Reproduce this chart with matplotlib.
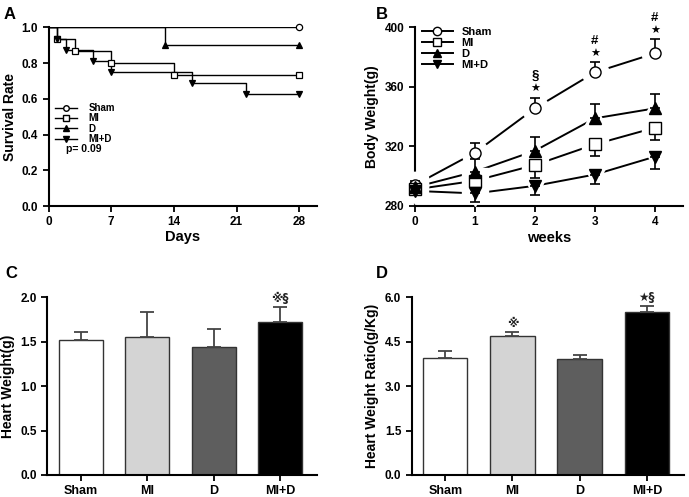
import matplotlib
matplotlib.use("Agg")
from matplotlib import pyplot as plt
from matplotlib.lines import Line2D

plt.rcParams['font.family'] = ['Liberation Sans', 'DejaVu Sans']
plt.rcParams['font.weight'] = 'bold'
plt.rcParams['axes.labelweight'] = 'bold'
plt.rcParams['axes.linewidth'] = 1.5

# ---- A: survival (Kaplan-Meier steps) ----
groups = ["Sham", "MI", "D", "MI+D"]
surv_days = {
    "Sham": [0, 28],
    "MI": [0, 1, 3, 7, 14, 28],
    "D": [0, 13, 28],
    "MI+D": [0, 1, 2, 5, 7, 16, 22, 28],
}
surv_rate = {
    "Sham": [1.0, 1.0],
    "MI": [1.0, 0.933, 0.867, 0.8, 0.733, 0.733],
    "D": [1.0, 0.9, 0.9],
    "MI+D": [1.0, 0.9375, 0.875, 0.8125, 0.75, 0.6875, 0.625, 0.625],
}
p_text = "p= 0.09"

# ---- B: body weight over weeks ----
weeks = [0, 1, 2, 3, 4]
bw_mean = {
    "Sham": [294, 315.7, 345.5, 369.7, 382.5],
    "MI": [291, 296.8, 307.4, 321.3, 332.5],
    "D": [292.5, 302.9, 317, 338.8, 345.5],
    "MI+D": [290, 288.3, 293.4, 301, 313],
}
bw_err = {
    "Sham": [2.5, 6.3, 7.2, 6.7, 9.4],
    "MI": [2.5, 5.6, 8.6, 7.9, 8.5],
    "D": [2.5, 8.5, 9, 9.4, 9.4],
    "MI+D": [2.5, 6.1, 6.2, 6.2, 8.3],
}
err_up = {"Sham": True, "MI": False, "D": True, "MI+D": False}
bw_marks = {2: ["\u2605", "\u00a7"], 3: ["\u2605", "#"], 4: ["\u2605", "#"]}

# ---- C / D: bars ----
bar_labels = ["Sham", "MI", "D", "MI+D"]
heart_w = [1.52, 1.55, 1.445, 1.725]
heart_w_err = [0.087, 0.29, 0.20, 0.17]
heart_w_marks = ["", "", "", "\u203b\u00a7"]
ratio = [3.96, 4.69, 3.90, 5.52]
ratio_err = [0.23, 0.15, 0.16, 0.19]
ratio_marks = ["", "\u203b", "", "\u2605\u00a7"]

markers = {"Sham": "o", "MI": "s", "D": "^", "MI+D": "v"}
faces = {"Sham": "white", "MI": "white", "D": "black", "MI+D": "black"}
bar_colors = ["white", "#d4d4d4", "#5e5e5e", "black"]

fig = plt.figure(figsize=(6.89, 4.97), dpi=100)
axA = fig.add_axes([0.0704, 0.5855, 0.390, 0.3595])
axB = fig.add_axes([0.6023, 0.586, 0.389, 0.359])
axC = fig.add_axes([0.0687, 0.0443, 0.391, 0.3575])
axD = fig.add_axes([0.5975, 0.0443, 0.395, 0.3575])

for ax in (axA, axB, axC, axD):
    ax.spines['top'].set_visible(False)
    ax.spines['right'].set_visible(False)
    ax.tick_params(direction='out', length=4, width=1.3, labelsize=8.5)

# A
for g in groups:
    t, s = surv_days[g], surv_rate[g]
    axA.step(t, s, where='post', color='black', lw=1.0, zorder=2)
    axA.plot(t[1:], s[1:], ls='none', marker=markers[g], ms=4.5,
             mfc=faces[g], mec='black', mew=0.9, clip_on=False, zorder=3)
axA.set_xlim(0, 30)
axA.set_ylim(0, 1.0)
axA.set_xticks([0, 7, 14, 21, 28])
axA.set_yticks([0, 0.2, 0.4, 0.6, 0.8, 1.0])
axA.set_yticklabels(["%.1f" % v for v in axA.get_yticks()])
axA.set_xlabel("Days", fontsize=10.5, labelpad=1)
axA.set_ylabel("Survival Rate", fontsize=10, labelpad=3)
handlesA = [Line2D([], [], color='black', lw=1, marker=markers[g], ms=4,
                   mfc=faces[g], mec='black') for g in groups]
axA.legend(handlesA, groups, loc='upper left', bbox_to_anchor=(0.0, 0.615),
           frameon=False, fontsize=7, handlelength=2.2, labelspacing=0.05,
           handletextpad=1.2, borderaxespad=0.3)
axA.text(0.065, 0.32, p_text, transform=axA.transAxes, fontsize=7.5,
         va='center')

# B
for g in groups:
    m, e = bw_mean[g], bw_err[g]
    zeros = [0] * len(e)
    yerr = [zeros, e] if err_up[g] else [e, zeros]
    axB.plot(weeks, m, color='black', lw=1.4, zorder=2, clip_on=False)
    axB.plot(weeks, m, ls='none', marker=markers[g], ms=19, mfc='white',
             mec='white', zorder=3, clip_on=False)
    axB.errorbar(weeks, m, yerr=yerr, fmt='none', ecolor='black',
                 elinewidth=1.2, capsize=3.5, capthick=1.2, zorder=4,
                 clip_on=False)
    axB.plot(weeks, m, ls='none', marker=markers[g], ms=8, mfc=faces[g],
             mec='black', mew=1.0, zorder=5, clip_on=False)
for w, labs in bw_marks.items():
    top = bw_mean["Sham"][w] + bw_err["Sham"][w]
    axB.text(w, top + 2.5, labs[0], ha='center', va='bottom', fontsize=8,
             family=['DejaVu Sans'])
    axB.text(w, top + 10.5, labs[1], ha='center', va='bottom', fontsize=9.5)
axB.set_xlim(0, 4.47)
axB.set_ylim(280, 400)
axB.set_xticks(weeks)
axB.set_yticks([280, 320, 360, 400])
axB.set_xlabel("weeks", fontsize=10.5, labelpad=2)
axB.set_ylabel("Body Weight(g)", fontsize=10, labelpad=4)
handlesB = [Line2D([], [], color='black', lw=1.4, marker=markers[g], ms=6,
                   mfc=faces[g], mec='black') for g in groups]
axB.legend(handlesB, groups, loc='upper left', bbox_to_anchor=(0.0, 1.04),
           frameon=False, fontsize=8, handlelength=2.8, labelspacing=0.1,
           handletextpad=0.8, borderaxespad=0.2)

# C and D
def bar_panel(ax, vals, errs, marks, ylim, ticks, fmt, ylabel, pad):
    xs = list(range(len(vals)))
    ax.bar(xs, vals, width=0.66, color=bar_colors, edgecolor='#333333',
           linewidth=1.0, zorder=2)
    ax.errorbar(xs, vals, yerr=[[0] * len(errs), errs], fmt='none',
                ecolor='#444444', elinewidth=1.3, capsize=5, capthick=1.3,
                zorder=3)
    for x, v, e, mk in zip(xs, vals, errs, marks):
        if mk:
            ax.text(x, v + e + pad, mk, ha='center', va='bottom', fontsize=8.5,
                    family=['DejaVu Sans'], color='#222222')
    ax.set_xlim(-0.5, 3.55)
    ax.set_ylim(*ylim)
    ax.set_xticks(xs)
    ax.set_xticklabels(bar_labels, fontsize=9)
    ax.set_yticks(ticks)
    ax.set_yticklabels([fmt % v for v in ticks])
    ax.set_ylabel(ylabel, fontsize=10, labelpad=4)

bar_panel(axC, heart_w, heart_w_err, heart_w_marks, (0, 2.0),
          [0, 0.5, 1.0, 1.5, 2.0], "%.1f", "Heart Weight(g)", 0.02)
bar_panel(axD, ratio, ratio_err, ratio_marks, (0, 6.0),
          [0, 1.5, 3.0, 4.5, 6.0], "%.1f", "Heart Weight Ratio(g/Kg)", 0.06)

# panel letters
for lab, x, y in [("A", 0.005, 0.985), ("B", 0.545, 0.985),
                  ("C", 0.008, 0.465), ("D", 0.545, 0.465)]:
    fig.text(x, y, lab, fontsize=12, va='top', ha='left')

fig.savefig("out.png", dpi=100)
